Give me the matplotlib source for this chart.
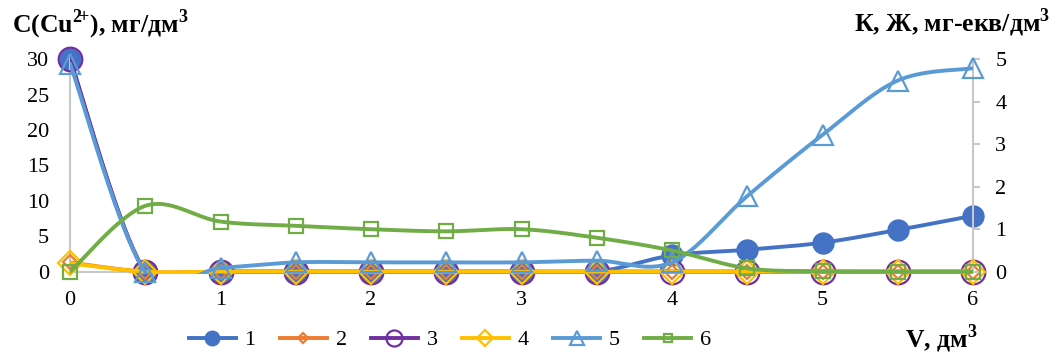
import numpy as np
import matplotlib
matplotlib.use("Agg")
import matplotlib.pyplot as plt
from matplotlib.lines import Line2D
from matplotlib.patches import Rectangle

plt.rcParams['font.family'] = ['Liberation Serif', 'DejaVu Serif']
plt.rcParams['mathtext.fontset'] = 'custom'
plt.rcParams['mathtext.rm'] = 'Liberation Serif'
plt.rcParams['mathtext.bf'] = 'Liberation Serif:bold'

# Volume passed, dm3
volume = [0, 0.5, 1, 1.5, 2, 2.5, 3, 3.5, 4, 4.5, 5, 5.5, 6]

# Cu2+ concentration series (left axis, mg/dm3)
s1 = [30, 0, 0, 0, 0, 0, 0, 0, 2.3, 3.1, 4.1, 5.9, 7.9]
s2 = [1.3, 0, 0, 0, 0, 0, 0, 0, 0, 0, 0, 0, 0]
s3 = [30, 0, 0, 0, 0, 0, 0, 0, 0, 0, 0, 0, 0]

# Alkalinity / hardness series (right axis, mg-eq/dm3)
s4 = [0.2, 0, 0, 0, 0, 0, 0, 0, 0, 0, 0, 0, 0]
s5 = [4.9, 0, 0.09, 0.22, 0.22, 0.22, 0.22, 0.26, 0.22, 1.78, 3.22, 4.5, 4.79]
s6 = [0, 1.55, 1.18, 1.08, 1.0, 0.95, 1.0, 0.8, 0.5, 0.08, 0.01, 0, 0]

labels = ['1', '2', '3', '4', '5', '6']
left_ticks = [0, 5, 10, 15, 20, 25, 30]
right_ticks = [0, 1, 2, 3, 4, 5]
x_ticks = [0, 1, 2, 3, 4, 5, 6]

colors = ['#4472C4', '#ED7D31', '#7030A0', '#FFC000', '#5B9BD5', '#70AD47']
styles = [
    dict(marker='o', ms=14.5, mfc='#4472C4', mec='#4472C4', mew=1.6),
    dict(marker='D', ms=7.5, mfc='none', mec='#ED7D31', mew=1.6),
    dict(marker='o', ms=17, mfc='none', mec='#7030A0', mew=1.6),
    dict(marker='D', ms=12.5, mfc='none', mec='#FFC000', mew=1.6),
    dict(marker='^', ms=14, mfc='none', mec='#5B9BD5', mew=1.6),
    dict(marker='s', ms=9.5, mfc='none', mec='#70AD47', mew=1.6),
]
LW = 2.8


def smooth(xs, ys, n=40):
    """Cardinal Bezier smoothing of a polyline (spreadsheet-style smoothed line)."""
    p = np.column_stack([xs, ys]).astype(float)
    m = len(p)
    out = [p[0]]
    t = np.linspace(0, 1, n)[1:, None]
    for i in range(m - 1):
        p0 = p[max(i - 1, 0)]
        p1 = p[i]
        p2 = p[i + 1]
        p3 = p[min(i + 2, m - 1)]
        c1 = p1 + (p2 - p0) / 6.0
        c2 = p2 - (p3 - p1) / 6.0
        seg = ((1 - t) ** 3) * p1 + 3 * ((1 - t) ** 2) * t * c1 + 3 * (1 - t) * t ** 2 * c2 + t ** 3 * p2
        out.extend(seg)
    out = np.array(out)
    return out[:, 0], out[:, 1]


W, H = 1058, 356
fig = plt.figure(figsize=(W / 100, H / 100), dpi=100)
ax = fig.add_axes([70 / W, 84.3 / H, 903 / W, 212.4 / H])
ax2 = ax.twinx()

grey = '#C8C8C8'
tick_fs = 16

for a in (ax, ax2):
    a.set_xlim(0, 6)
    a.spines['top'].set_visible(False)
    a.patch.set_visible(False)

ax.set_ylim(0, 30)
ax2.set_ylim(0, 5)

ax.spines['right'].set_visible(False)
ax.spines['left'].set_color(grey)
ax.spines['bottom'].set_color(grey)
ax.spines['left'].set_linewidth(1.5)
ax.spines['bottom'].set_linewidth(1.5)
ax2.spines['left'].set_visible(False)
ax2.spines['bottom'].set_visible(False)
ax2.spines['right'].set_color(grey)
ax2.spines['right'].set_linewidth(1.5)

ax.set_xticks(x_ticks)
ax.set_yticks(left_ticks)
ax2.set_yticks(right_ticks)
ax.tick_params(axis='x', length=0, pad=14, labelsize=tick_fs)
ax.tick_params(axis='y', length=0, pad=15, labelsize=tick_fs)
ax2.tick_params(axis='y', length=5, width=1.5, color=grey, pad=11, labelsize=tick_fs)


# clip lines a couple of pixels below the zero line so the zero-level lines show in full
def clip_rect(a):
    r = Rectangle((0, -2.5 / 212.4), 1, 1.2, transform=a.transAxes, facecolor='none', edgecolor='none')
    a.add_patch(r)
    return r


left_series = [s1, s2, s3]
right_series = [s4, s5, s6]

for a, series, idx in ((ax, left_series, [0, 1, 2]), (ax2, right_series, [3, 4, 5])):
    cr = clip_rect(a)
    for ys, k in zip(series, idx):
        sx, sy = smooth(volume, ys)
        ln, = a.plot(sx, sy, color=colors[k], lw=LW, solid_capstyle='round', zorder=2 + k)
        ln.set_clip_path(cr)
        a.plot(volume, ys, ls='none', clip_on=False, zorder=2 + k, **styles[k])

handles = [Line2D([], [], color=colors[k], lw=LW, **styles[k]) for k in range(6)]
fig.legend(handles, labels, loc='center', bbox_to_anchor=(450 / W, 1 - 340 / H), ncol=6,
           frameon=False, fontsize=tick_fs, handlelength=2.1, handletextpad=0.4,
           columnspacing=1.1, markerscale=0.68, borderpad=0)

title_fs = 18.5
fig.text(12 / W, 1 - 32 / H, r'C(Cu$^{\mathbf{2}\!\mathbf{+}}$), мг/дм$^{\mathbf{3}}$', fontsize=title_fs,
         fontweight='bold', ha='left', va='baseline')
fig.text(1050 / W, 1 - 31 / H, r'К, Ж, мг-екв/дм$^{\mathbf{3}}$', fontsize=title_fs,
         fontweight='bold', ha='right', va='baseline')
fig.text(905 / W, 1 - 347 / H, r'V, дм$^{\mathbf{3}}$', fontsize=title_fs,
         fontweight='bold', ha='left', va='baseline')

fig.savefig('out.png', dpi=100)
